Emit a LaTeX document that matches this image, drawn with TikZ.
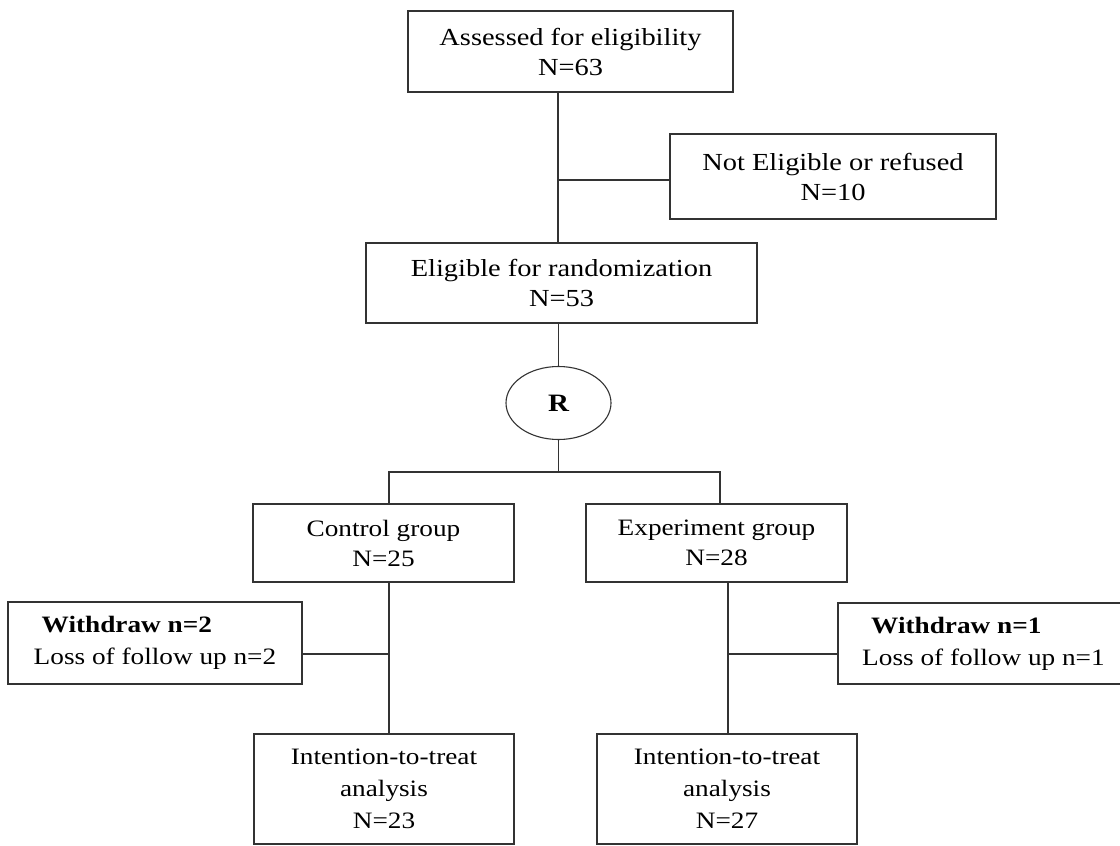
\documentclass[tikz,border=0pt]{standalone}
\usepackage{fontspec}
\setmainfont{Liberation Serif}[FakeStretch=1.16]
\usetikzlibrary{shapes.geometric}
\begin{document}
\begin{tikzpicture}[x=1pt,y=-1pt,
  box/.style={draw=black!80, line width=1.1pt, rectangle, inner sep=0pt, align=center},
  conn/.style={draw=black!80, line width=1.1pt},
  bigtxt/.style={font=\fontsize{24.5}{30}\selectfont},
  smtxt/.style={font=\fontsize{23.5}{30}\selectfont},
  tritxt/.style={font=\fontsize{23.5}{32}\selectfont}]
\useasboundingbox (0,0) rectangle (1120,846);

\node[box,bigtxt,minimum width=325pt,minimum height=81pt] (A) at (570.5,51.5) {Assessed for eligibility\\N=63};
\node[box,bigtxt,minimum width=326pt,minimum height=85pt] (NE) at (833,176.5) {Not Eligible or refused\\N=10};
\node[box,bigtxt,minimum width=391pt,minimum height=80pt] (Elig) at (561.5,283) {Eligible for randomization\\N=53};
\node[draw=black!80, line width=1.1pt, ellipse, inner sep=0pt, minimum width=105pt, minimum height=73pt,
      font=\bfseries\fontsize{25}{30}\selectfont] (R) at (558.5,403) {R};
\node[box,smtxt,minimum width=261pt,minimum height=78pt] (Ctrl) at (383.5,543) {Control group\\N=25};
\node[box,smtxt,minimum width=261pt,minimum height=78pt] (Exp) at (716.5,543) {Experiment group\\N=28};
\node[box,font=\fontsize{23.5}{32}\selectfont,align=left,minimum width=294pt,minimum height=82pt] (W2) at (155,643)
  {\hspace{8pt}\textbf{Withdraw n=2}\\Loss of follow up n=2};
\node[box,font=\fontsize{23.5}{32}\selectfont,align=left,minimum width=291pt,minimum height=81pt] (W1) at (983.5,643.5)
  {\hspace{9pt}\textbf{Withdraw n=1}\\Loss of follow up n=1};
\node[box,tritxt,minimum width=260pt,minimum height=110pt] (ITT1) at (384,789) {Intention-to-treat\\analysis\\N=23};
\node[box,tritxt,minimum width=260pt,minimum height=110pt] (ITT2) at (727,789) {Intention-to-treat\\analysis\\N=27};

\coordinate (t1) at (558,180);
\draw[conn] (t1 |- A.south) -- (t1 |- Elig.north);
\draw[conn] (t1) -- (t1 -| NE.west);
\draw[conn] (R.north) -- (R.north |- Elig.south);
\coordinate (jL) at (389,472);
\coordinate (jR) at (720,472);
\draw[conn] (R.south) -- (R.south |- jL);
\draw[conn] (jL |- Ctrl.north) -- (jL) -- (jR) -- (jR |- Exp.north);
\coordinate (tL) at (389,654);
\coordinate (tR) at (728,654);
\draw[conn] (tL |- Ctrl.south) -- (tL |- ITT1.north);
\draw[conn] (W2.east |- tL) -- (tL);
\draw[conn] (tR |- Exp.south) -- (tR |- ITT2.north);
\draw[conn] (tR) -- (tR -| W1.west);
\end{tikzpicture}
\end{document}
